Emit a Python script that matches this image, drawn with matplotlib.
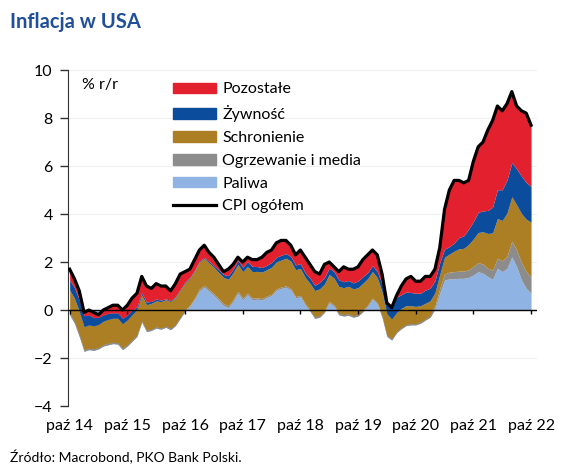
import numpy as np
import matplotlib
matplotlib.use("Agg")
from matplotlib import pyplot as plt
from matplotlib.patches import Patch
from matplotlib.lines import Line2D

plt.rcParams['font.family'] = ['Lato', 'DejaVu Sans']

# months from Oct 2014 to Oct 2022, contributions to CPI y/y (pp)
paliwa = [-0.2, -0.55, -1.1,
          -1.72, -1.65, -1.68, -1.62, -1.5, -1.45, -1.4, -1.42, -1.65, -1.5, -1.3, -1.1,
          -0.5, -0.9, -0.85, -0.75, -0.8, -0.72, -0.82, -0.65, -0.35, -0.05, 0.15, 0.45,
          0.8, 0.95, 0.78, 0.6, 0.4, 0.18, 0.1, 0.35, 0.7, 0.42, 0.63, 0.42,
          0.45, 0.42, 0.52, 0.6, 0.82, 0.9, 0.95, 0.83, 0.5, 0.55, 0.2, -0.05,
          -0.35, -0.3, -0.1, 0.3, 0.15, -0.2, -0.25, -0.22, -0.3, -0.25, -0.07, 0.15,
          0.45, 0.25, -0.3, -1.1, -1.25, -0.95, -0.78, -0.65, -0.62, -0.62, -0.55, -0.42,
          -0.3, 0.05, 0.7, 1.25, 1.3, 1.3, 1.32, 1.32, 1.36, 1.46, 1.6, 1.53,
          1.39, 1.28, 1.74, 1.6, 1.74, 2.22, 1.8, 1.25, 0.9, 0.7]
ogrzewanie = [0.08, 0.08, 0.08] + [0.06] * 12 + [0.05] * 12 + [0.08] * 12 + [0.06] * 24 + [0.05] * 12 + \
    [0.08, 0.12, 0.2, 0.25, 0.28, 0.3, 0.3, 0.3, 0.32, 0.35, 0.38, 0.38,
     0.35, 0.38, 0.42, 0.45, 0.5, 0.65, 0.7, 0.72, 0.7, 0.68]
schronienie = [0.95, 0.95, 0.97,
               0.97, 0.97, 0.96, 0.96, 0.98, 1.0, 1.0, 1.02, 1.02, 1.03, 1.05, 1.05,
               1.07, 1.07, 1.08, 1.08, 1.1, 1.1, 1.12, 1.12, 1.12, 1.12, 1.12, 1.12,
               1.12, 1.12, 1.1, 1.1, 1.08, 1.1, 1.1, 1.12, 1.12, 1.1, 1.1, 1.1,
               1.1, 1.1, 1.1, 1.12, 1.12, 1.12, 1.15, 1.15, 1.12, 1.12, 1.1, 1.1,
               1.1, 1.12, 1.12, 1.12, 1.12, 1.12, 1.12, 1.15, 1.12, 1.12, 1.12, 1.1,
               1.1, 1.05, 1.0, 0.9, 0.83, 0.8, 0.8, 0.78, 0.75, 0.72, 0.68, 0.65,
               0.6, 0.55, 0.58, 0.7, 0.75, 0.85, 0.93, 0.95, 1.05, 1.15, 1.25, 1.35,
               1.45, 1.55, 1.65, 1.68, 1.8, 1.85, 1.88, 2.05, 2.18, 2.28]
zywnosc = [0.42, 0.45, 0.47,
           0.45, 0.42, 0.34, 0.3, 0.25, 0.25, 0.22, 0.22, 0.22, 0.2, 0.18, 0.12,
           0.1, 0.11, 0.08, 0.08, 0.06, 0.04, 0.04, 0.04, 0.04, 0.04, 0.04, 0.04,
           0.04, 0.04, 0.07, 0.07, 0.12, 0.12, 0.15, 0.15, 0.17, 0.18, 0.2, 0.22,
           0.2, 0.19, 0.18, 0.2, 0.2, 0.2, 0.19, 0.19, 0.2, 0.2, 0.19, 0.22,
           0.22, 0.27, 0.27, 0.27, 0.27, 0.28, 0.25, 0.24, 0.25, 0.28, 0.28, 0.25,
           0.25, 0.25, 0.33, 0.48, 0.56, 0.63, 0.57, 0.57, 0.55, 0.55, 0.52, 0.55,
           0.53, 0.5, 0.49, 0.34, 0.31, 0.34, 0.47, 0.52, 0.64, 0.73, 0.84, 0.87,
           0.96, 1.08, 1.2, 1.28, 1.38, 1.42, 1.5, 1.56, 1.53, 1.49]
pozostale = [0.45, 0.37, 0.38,
             0.14, 0.2, 0.22, 0.1, 0.21, 0.24, 0.32, 0.32, 0.35, 0.41, 0.51, 0.57,
             0.68, 0.67, 0.54, 0.64, 0.59, 0.53, 0.41, 0.54, 0.64, 0.44, 0.34, 0.44,
             0.46, 0.51, 0.37, 0.35, 0.22, 0.12, 0.27, 0.2, 0.13, 0.22, 0.19, 0.28,
             0.29, 0.43, 0.54, 0.52, 0.6, 0.62, 0.55, 0.47, 0.42, 0.57, 0.65, 0.57,
             0.57, 0.35, 0.55, 0.25, 0.2, 0.34, 0.62, 0.47, 0.57, 0.59, 0.71, 0.74,
             0.65, 0.7, 0.42, -0.03, -0.09, 0.07, 0.36, 0.55, 0.67, 0.5, 0.5, 0.57,
             0.49, 0.48, 0.63, 1.66, 2.36, 2.61, 2.38, 2.21, 2.03, 2.51, 2.73, 2.87,
             3.35, 3.61, 3.49, 3.29, 3.18, 2.96, 2.62, 2.72, 2.89, 2.55]
cpi = [1.7, 1.3, 0.8,
       -0.1, 0.0, -0.1, -0.2, 0.0, 0.1, 0.2, 0.2, 0.0, 0.2, 0.5, 0.7,
       1.4, 1.0, 0.9, 1.1, 1.0, 1.0, 0.8, 1.1, 1.5, 1.6, 1.7, 2.1,
       2.5, 2.7, 2.4, 2.2, 1.9, 1.6, 1.7, 1.9, 2.2, 2.0, 2.2, 2.1,
       2.1, 2.2, 2.4, 2.5, 2.8, 2.9, 2.9, 2.7, 2.3, 2.5, 2.2, 1.9,
       1.6, 1.5, 1.9, 2.0, 1.8, 1.6, 1.8, 1.7, 1.7, 1.8, 2.1, 2.3,
       2.5, 2.3, 1.5, 0.3, 0.1, 0.6, 1.0, 1.3, 1.4, 1.2, 1.2, 1.4,
       1.4, 1.7, 2.6, 4.2, 5.0, 5.4, 5.4, 5.3, 5.4, 6.2, 6.8, 7.0,
       7.5, 7.9, 8.5, 8.3, 8.6, 9.1, 8.5, 8.3, 8.2, 7.7]
tick_labels = ['paź 14', 'paź 15', 'paź 16', 'paź 17', 'paź 18', 'paź 19', 'paź 20', 'paź 21', 'paź 22']

series = [paliwa, ogrzewanie, schronienie, zywnosc, pozostale]
names = ['Paliwa', 'Ogrzewanie i media', 'Schronienie', 'Żywność', 'Pozostałe']
colors = ['#8fb4e3', '#8c8c8c', '#ad7f24', '#0b4c9c', '#e3202d']

x = np.arange(len(cpi))
fig = plt.figure(figsize=(5.76, 4.73), dpi=100)
ax = fig.add_axes([0.118, 0.1416, 0.814, 0.7104])

# excel-like stacking: each layer sits on the running sum of the previous ones
prev = np.zeros(len(x))
for vals, col in zip(series, colors):
    cur = prev + np.array(vals)
    ax.fill_between(x, prev, cur, color=col, lw=0, zorder=2)
    prev = cur
ax.plot(x, cpi, color='black', lw=2.3, zorder=4)

ax.axhline(0, color='black', lw=1.0, zorder=3)
ticks = np.arange(0, 97, 12)
ax.vlines(ticks, -0.17, 0, color='black', lw=1.0, zorder=3)

ax.set_xlim(-0.35, 97.2)
ax.set_ylim(-4, 10)
ax.set_yticks(np.arange(-4, 11, 2))
ax.set_xticks(ticks)
ax.set_xticklabels(tick_labels)
ax.tick_params(axis='x', length=0, pad=9, labelsize=11.5)
ax.tick_params(axis='y', length=6, width=1, color='#333333', pad=5, labelsize=11.5)
for s in ['top', 'right', 'bottom']:
    ax.spines[s].set_visible(False)
ax.spines['left'].set_color('#333333')
ax.grid(axis='y', color='#f0f0f0', lw=0.8, zorder=0)
ax.set_axisbelow(True)

ax.text(0.03, 0.975, '% r/r', transform=ax.transAxes, fontsize=11.5, va='top')

handles = [Patch(color=c) for c in colors[::-1]] + [Line2D([], [], color='black', lw=2.3)]
labels = names[::-1] + ['CPI ogółem']
ax.legend(handles, labels, loc='upper left', bbox_to_anchor=(0.21, 0.982), frameon=False,
          fontsize=11.5, handlelength=2.7, handleheight=0.65, labelspacing=0.55,
          handletextpad=0.4, borderaxespad=0)

fig.text(0.017, 0.953, 'Inflacja w USA', fontsize=14.5, fontweight='bold', color='#1f4f9b', va='center')
fig.text(0.017, 0.033, 'Źródło: Macrobond, PKO Bank Polski.', fontsize=10, va='center')

plt.savefig('out.png', dpi=100)
